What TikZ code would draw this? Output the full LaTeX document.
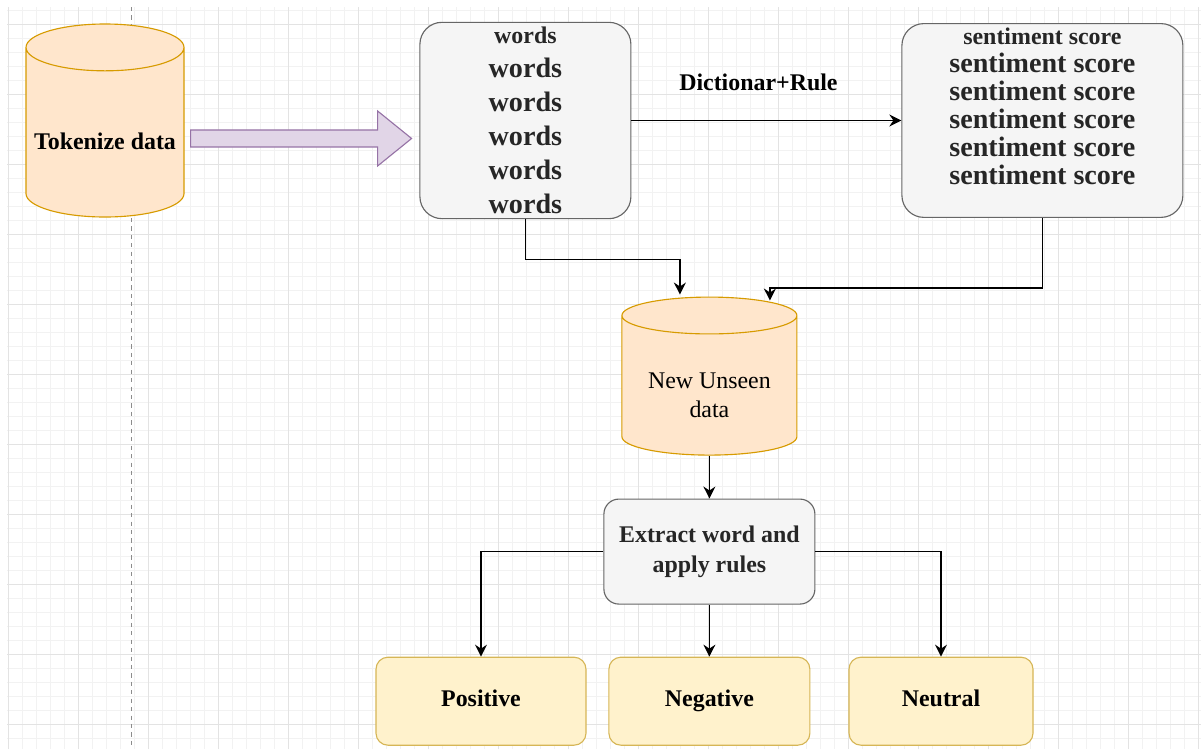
\documentclass[tikz,border=0pt]{standalone}
\usepackage{fontspec}
\setmainfont{Liberation Serif}
\usetikzlibrary{shapes.geometric, arrows, arrows.meta, calc}
\definecolor{dbfill}{HTML}{FFE6CC}
\definecolor{dbdraw}{HTML}{D79B00}
\definecolor{boxfill}{HTML}{F5F5F5}
\definecolor{boxdraw}{HTML}{666666}
\definecolor{resfill}{HTML}{FFF2CC}
\definecolor{resdraw}{HTML}{D6B656}
\definecolor{bigfill}{HTML}{E1D5E7}
\definecolor{bigdraw}{HTML}{9673A6}
\tikzstyle{database} = [cylinder, shape border rotate=90, draw=dbdraw,
fill=dbfill, line width=0.8pt, text centered, inner sep=0pt,
font=\fontsize{17}{20.6}\selectfont]
\tikzstyle{listbox} = [rectangle, rounded corners=0.55cm, minimum
height=4.825cm, draw=boxdraw, fill=boxfill, line width=0.8pt, align=center,
text=black!85]
\tikzstyle{process} = [rectangle, rounded corners=0.375cm, minimum
width=5.275cm, minimum height=2.625cm, draw=boxdraw, fill=boxfill,
line width=0.8pt, align=center, text=black!85,
font=\fontsize{17}{21.3}\selectfont\bfseries]
\tikzstyle{result} = [rectangle, rounded corners=0.3cm, minimum
height=2.2cm, draw=resdraw, fill=resfill, line width=0.8pt, text centered,
text height=11pt, text depth=3.5pt, font=\fontsize{17}{20}\selectfont\bfseries]
\tikzstyle{bigarrow} = [draw=bigdraw, fill=bigfill, line width=0.8pt]
\tikzstyle{arrow} = [line width=1pt,->,>={Stealth[length=3mm,width=3mm,inset=1mm]}]

\begin{document}
\begin{tikzpicture}[node distance=4.4cm]

\useasboundingbox (0,0) rectangle (30.025,-18.725);
\fill[white] (0,0) rectangle (30.025,-18.725);
\begin{scope}[shift={(0.2,-0.6)}]
\draw[step=0.35cm, black!5, line width=0.4pt] (-0.025,0.425) grid (29.825,-18.125);
\draw[step=1.75cm, black!11, line width=0.6pt] (-0.025,0.425) grid (29.825,-18.125);
\end{scope}
\draw[black!45, dashed, line width=0.6pt] (3.275,-0.175) -- (3.275,-18.725);

\node(tok)[database, minimum width=3.95cm, minimum height=4.825cm, aspect=0.33,
anchor=shape center] at (2.625,-3.0125) {\raisebox{-0.21cm}[\height][\depth]{\bfseries
Tokenize data}};
\node(words)[listbox, minimum width=5.275cm, right of=tok, xshift=6.11cm,
yshift=0.3cm, font=\fontsize{20}{24.2}\selectfont\bfseries]{{\fontsize{17}{24.2}\selectfont
words}\\words\\words\\words\\words\\words};
\node(score)[listbox, minimum width=7.025cm, right of=words, xshift=8.525cm,
font=\fontsize{20}{19.9}\selectfont\bfseries]{{\fontsize{17}{19.9}\selectfont
sentiment score}\\sentiment score\\sentiment score\\sentiment score\\sentiment
score\\sentiment score\\ \mbox{}};
\node(unseen)[database, minimum width=4.375cm, minimum height=3.95cm,
aspect=0.3, below of=words, xshift=4.6cm, yshift=-1.99cm, anchor=shape center]
{\raisebox{-0.3cm}[\height][\depth]{\begin{tabular}{@{}c@{}}New Unseen\\data\end{tabular}}};
\node(extract)[process, below of=unseen, yshift=0.25cm]{Extract word and\\apply
rules};
\node(neg)[result, minimum width=5.025cm, below of=extract, yshift=0.66cm]{Negative};
\node(pos)[result, minimum width=5.25cm, left of=neg, xshift=-1.31cm]{Positive};
\node(neu)[result, minimum width=4.6cm, right of=neg, xshift=1.39cm]{Neutral};

\coordinate(tail) at ($(tok.east)+(0.15,-0.15)$);
\draw[bigarrow](tail) ++(0,0.2125) -- ++(4.675,0) -- ++(0,0.475) --
++(0.85,-0.6875) -- ++(-0.85,-0.6875) -- ++(0,0.475) -- ++(-4.675,0) -- cycle;

\draw[arrow](words) -- node[above=0.6cm, xshift=-0.2cm,
font=\fontsize{17}{20}\selectfont\bfseries]{Dictionar+Rule}(score);
\draw[arrow](words.south) -- ++(0,-1) -| ($(unseen.north)+(-0.7375,0.05)$);
\draw[arrow](score.south) -- ++(0,-1.75) -| ($(unseen.north)+(1.5125,-0.1)$);
\draw[arrow](unseen.south) -- (extract.north);
\draw[arrow](extract.west) -| (pos.north);
\draw[arrow](extract.south) -- (neg.north);
\draw[arrow](extract.east) -| (neu.north);

\end{tikzpicture}
\end{document}
